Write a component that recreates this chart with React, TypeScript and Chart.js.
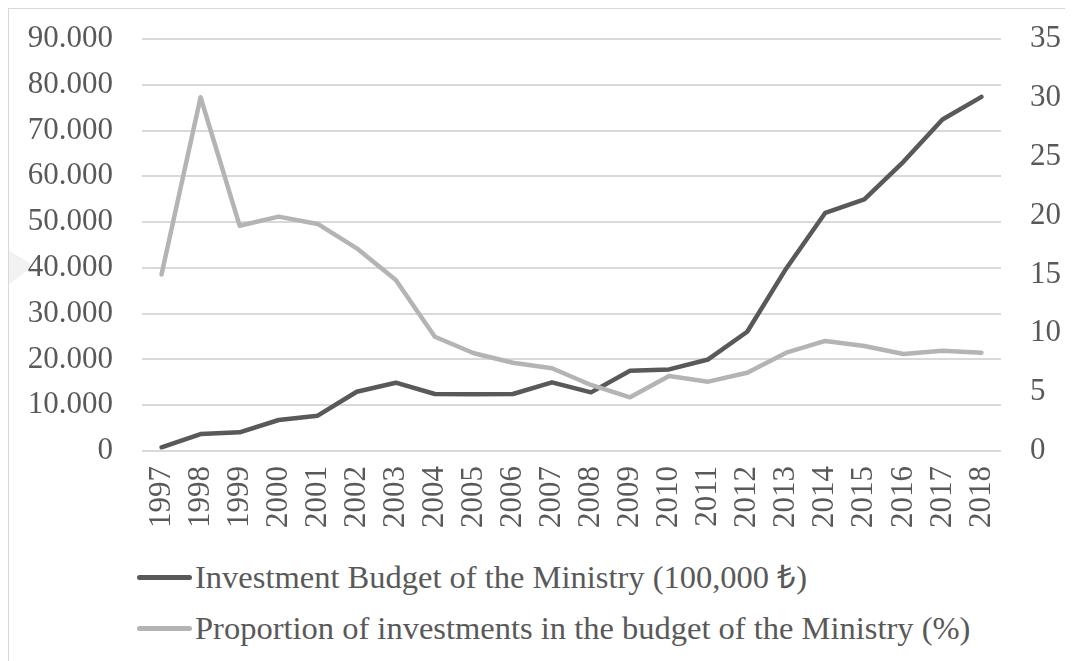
import React, { useEffect, useRef } from "react";
import { Chart, registerables } from "chart.js";

Chart.register(...registerables);

const years = ["1997", "1998", "1999", "2000", "2001", "2002", "2003", "2004", "2005", "2006", "2007", "2008", "2009", "2010", "2011", "2012", "2013", "2014", "2015", "2016", "2017", "2018"];
const budget = [810, 3710, 4080, 6770, 7710, 12950, 14920, 12450, 12380, 12450, 15000, 12810, 17540, 17830, 20000, 26050, 39880, 52040, 54950, 63170, 72420, 77360];
const proportion = [15.0, 30.05, 19.14, 19.91, 19.29, 17.22, 14.53, 9.71, 8.3, 7.5, 7.03, 5.61, 4.56, 6.37, 5.89, 6.65, 8.35, 9.35, 8.92, 8.24, 8.52, 8.35];
const leftTickLabels = ["0", "10.000", "20.000", "30.000", "40.000", "50.000", "60.000", "70.000", "80.000", "90.000"];
const rightTickLabels = ["0", "5", "10", "15", "20", "25", "30", "35"];
const seriesNames = ["Investment Budget of the Ministry (100,000 ₺)", "Proportion of investments in the budget of the Ministry (%)"];
const seriesColors = ["#595959", "#b4b4b4"];

const FONT = "'Liberation Serif', 'Times New Roman', serif";
const TEXT = "#595959";

function zeroPad(s: any) {
  s.paddingTop = 0;
  s.paddingBottom = 0;
  s.paddingLeft = 0;
  s.paddingRight = 0;
}

export default function App() {
  const ref = useRef<HTMLCanvasElement | null>(null);

  useEffect(() => {
    if (!ref.current) return;
    const chart = new Chart(ref.current, {
      type: "line",
      data: {
        labels: years,
        datasets: [
          {
            label: seriesNames[0],
            data: budget,
            yAxisID: "y",
            borderColor: seriesColors[0],
            backgroundColor: seriesColors[0],
            borderWidth: 4.5,
            pointRadius: 0,
            borderCapStyle: "round",
            borderJoinStyle: "round",
            tension: 0,
            order: 1,
          },
          {
            label: seriesNames[1],
            data: proportion,
            yAxisID: "y1",
            borderColor: seriesColors[1],
            backgroundColor: seriesColors[1],
            borderWidth: 4.5,
            pointRadius: 0,
            borderCapStyle: "round",
            borderJoinStyle: "round",
            tension: 0,
            order: 0,
          },
        ],
      },
      options: {
        responsive: false,
        animation: false,
        devicePixelRatio: 1,
        layout: { padding: { top: 30, left: 0, right: 0, bottom: 0 } },
        plugins: { legend: { display: false }, tooltip: { enabled: false } },
        scales: {
          x: {
            offset: true,
            grid: { display: false, drawTicks: false },
            border: { display: false },
            afterFit: (s: any) => {
              s.height = 103;
              zeroPad(s);
            },
            ticks: {
              autoSkip: false,
              minRotation: 90,
              maxRotation: 90,
              padding: 15,
              color: TEXT,
              font: { family: FONT, size: 31 },
            },
          },
          y: {
            position: "left",
            min: 0,
            max: 90000,
            grid: { color: "#d9d9d9", lineWidth: 2, drawTicks: false },
            border: { display: false },
            afterFit: (s: any) => {
              s.width = 133;
              zeroPad(s);
            },
            ticks: {
              stepSize: 10000,
              padding: 29,
              color: TEXT,
              font: { family: FONT, size: 31 },
              callback: (_v: any, i: number) => leftTickLabels[i],
            },
          },
          y1: {
            position: "right",
            min: 0,
            max: 35,
            grid: { display: false, drawTicks: false },
            border: { display: false },
            afterFit: (s: any) => {
              s.width = 72;
              zeroPad(s);
            },
            ticks: {
              stepSize: 5,
              padding: 29,
              color: TEXT,
              font: { family: FONT, size: 31 },
              callback: (_v: any, i: number) => rightTickLabels[i],
            },
          },
        },
      },
    });
    return () => chart.destroy();
  }, []);

  return (
    <div
      style={{
        position: "relative",
        width: 1064,
        height: 652,
        borderLeft: "1px solid #d9d9d9",
        borderTop: "1px solid #d9d9d9",
        overflow: "hidden",
        fontFamily: FONT,
      }}
    >
      <div
        style={{
          position: "absolute",
          left: -9,
          top: 236,
          width: 34,
          height: 46,
          background: "#f2f2f2",
          clipPath: "polygon(0 0, 100% 45%, 0 100%)",
        }}
      />
      <canvas ref={ref} width={1064} height={545} style={{ display: "block", position: "relative" }} />
      {seriesNames.map((name, i) => (
        <div
          key={name}
          style={{
            position: "absolute",
            left: 128,
            top: 548 + i * 51,
            height: 40,
            display: "flex",
            alignItems: "center",
            whiteSpace: "nowrap",
          }}
        >
          <span
            style={{
              display: "inline-block",
              width: 55,
              height: 5,
              borderRadius: 3,
              background: seriesColors[i],
              marginRight: 3,
            }}
          />
          <span style={{ fontSize: 32.5, color: TEXT, lineHeight: "40px" }}>{name}</span>
        </div>
      ))}
    </div>
  );
}
